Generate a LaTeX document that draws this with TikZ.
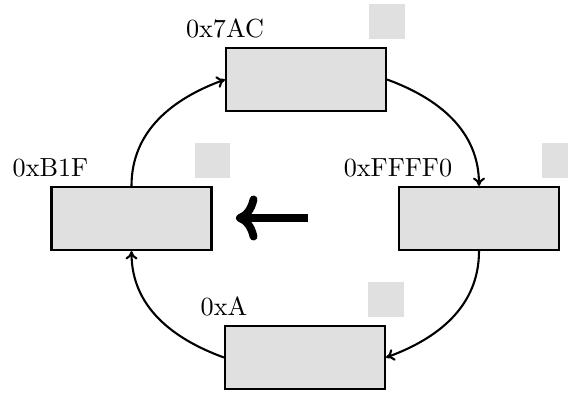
\documentclass[tikz,border=0pt]{standalone}
\usetikzlibrary{arrows.meta}
\begin{document}
\begin{tikzpicture}[x=0.382pt,y=0.382pt,
  cell/.style={draw,thick,fill=black!12,minimum width=61.1pt,minimum height=24.1pt,inner sep=0pt},
  tag/.style={fill=black!12,minimum size=13.4pt,inner sep=0pt,anchor=south,yshift=2.7pt},
  addr/.style={anchor=south},
  link/.style={-{To[length=3.2pt,width=4.6pt]},thick}]
  \clip (0,0) rectangle (568,392);

  % the four memory cells
  \node[cell] (top)   at (306,312.5) {};
  \node[cell] (left)  at (131.5,173.5) {};
  \node[cell] (right) at (479,173.5) {};
  \node[cell] (bot)   at (305,34.5) {};

  % addresses
  \node[addr] (atop)   at (top.north west)   {0x7AC};
  \node[addr] (aleft)  at (left.north west)  {0xB1F};
  \node[addr] (aright) at (right.north west) {0xFFFF0};
  \node[addr] (abot)   at (bot.north west)   {0xA};

  % small grey tags
  \node[tag] (ttop)   at (top.north east)   {};
  \node[tag] (tleft)  at (left.north east)  {};
  \node[tag] (tright) at (right.north east) {};
  \node[tag] (tbot)   at (bot.north east)   {};

  % ring of links
  \draw[link] (top.east)   to[out=-20,in=90]  (right.north);
  \draw[link] (right.south) to[out=-90,in=20] (bot.east);
  \draw[link] (bot.west)   to[out=160,in=-90] (left.south);
  \draw[link] (left.north) to[out=90,in=200]  (top.west);

  % head pointer
  \coordinate (hs) at (308,174);
  \coordinate (he) at (236,174);
  \draw[->,line width=3pt] (hs) -- (he);
\end{tikzpicture}
\end{document}
